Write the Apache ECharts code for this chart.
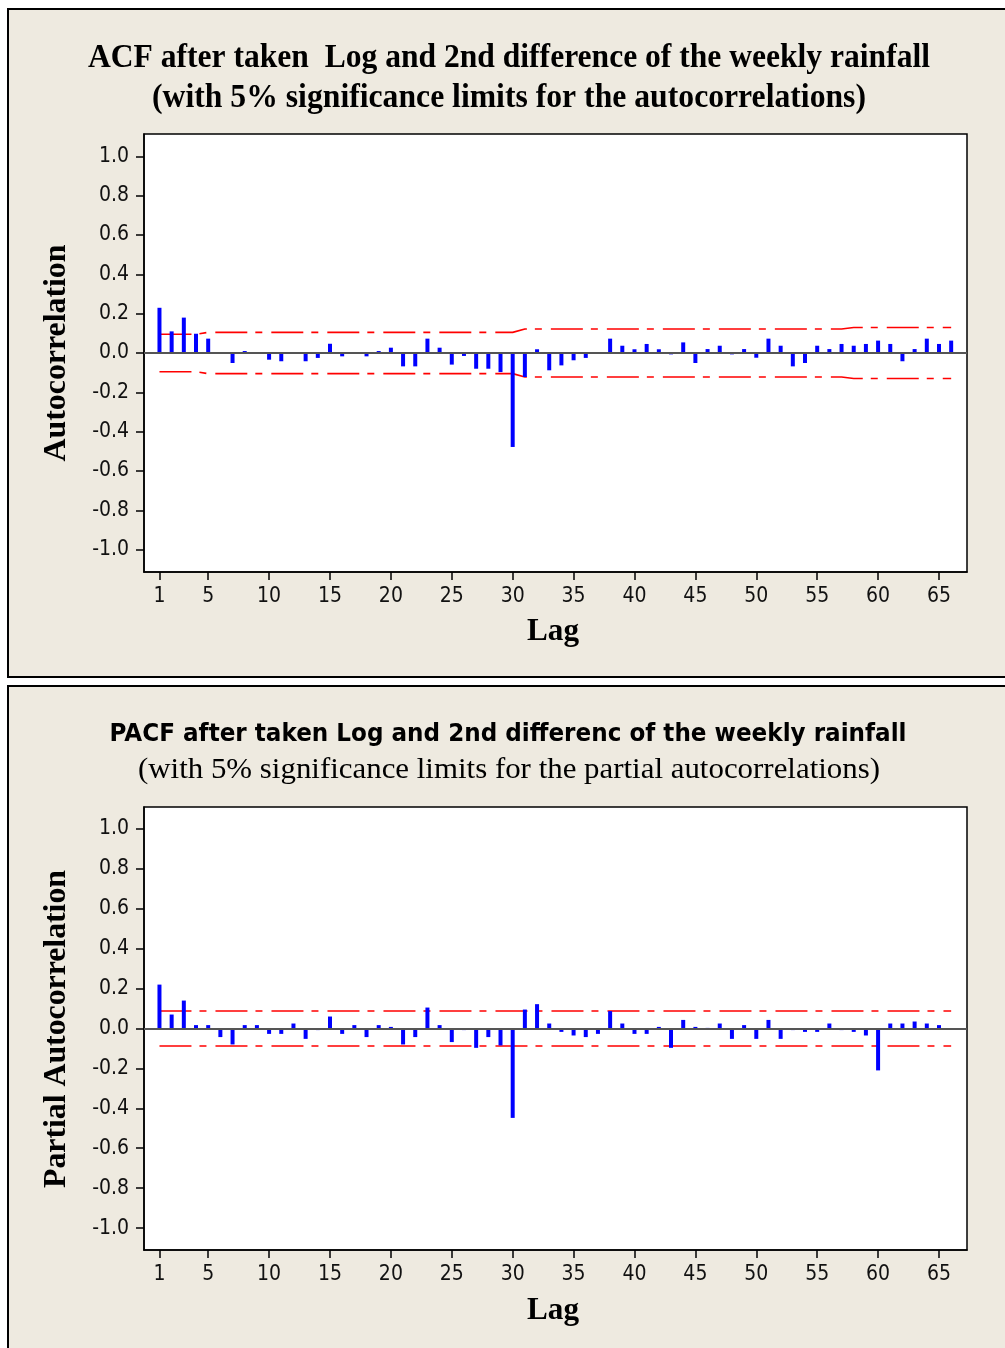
<!DOCTYPE html>
<html>
<head>
<meta charset="utf-8">
<script src="https://cdn.jsdelivr.net/npm/echarts@6/dist/echarts.min.js"></script>
<style>html,body{margin:0;padding:0;background:#fff}#c{width:1005px;height:1348px}</style>
</head>
<body>
<div id="c"></div>
<script>
// ---- data ----
const lags = [1,2,3,4,5,6,7,8,9,10,11,12,13,14,15,16,17,18,19,20,21,22,23,24,25,26,27,28,29,30,31,32,33,34,35,36,37,38,39,40,41,42,43,44,45,46,47,48,49,50,51,52,53,54,55,56,57,58,59,60,61,62,63,64,65,66];
const acf = [0.23,0.11,0.18,0.098,0.073,0.005,-0.051,0.01,0.003,-0.034,-0.042,0.003,-0.042,-0.025,0.047,-0.017,0.002,-0.017,0.01,0.027,-0.068,-0.068,0.073,0.027,-0.059,-0.015,-0.08,-0.08,-0.097,-0.478,-0.122,0.019,-0.088,-0.063,-0.037,-0.025,0.002,0.073,0.037,0.019,0.046,0.019,-0.007,0.054,-0.051,0.02,0.037,-0.007,0.02,-0.024,0.073,0.037,-0.068,-0.051,0.037,0.02,0.046,0.037,0.046,0.063,0.046,-0.042,0.02,0.073,0.046,0.063];
const acfLimit = [0.095,0.095,0.095,0.095,0.105,0.105,0.105,0.105,0.105,0.105,0.105,0.105,0.105,0.105,0.105,0.105,0.105,0.105,0.105,0.105,0.105,0.105,0.105,0.105,0.105,0.105,0.105,0.105,0.105,0.105,0.122,0.122,0.122,0.122,0.122,0.122,0.122,0.122,0.122,0.122,0.122,0.122,0.122,0.122,0.122,0.122,0.122,0.122,0.122,0.122,0.122,0.122,0.122,0.122,0.122,0.122,0.122,0.13,0.13,0.13,0.13,0.13,0.13,0.13,0.13,0.13];
const pacf = [0.22,0.07,0.14,0.017,0.017,-0.043,-0.08,0.017,0.017,-0.027,-0.027,0.025,-0.052,-0.008,0.06,-0.027,0.017,-0.043,0.017,0.008,-0.08,-0.043,0.105,0.017,-0.068,-0.008,-0.097,-0.043,-0.085,-0.448,0.095,0.122,0.025,-0.017,-0.035,-0.043,-0.027,0.087,0.025,-0.027,-0.027,0.008,-0.097,0.043,0.008,0.003,0.025,-0.052,0.017,-0.052,0.043,-0.052,-0.008,-0.017,-0.017,0.025,-0.008,-0.017,-0.035,-0.21,0.025,0.025,0.035,0.025,0.017,0];
const pacfLimit = [0.088,0.088,0.088,0.088,0.088,0.088,0.088,0.088,0.088,0.088,0.088,0.088,0.088,0.088,0.088,0.088,0.088,0.088,0.088,0.088,0.088,0.088,0.088,0.088,0.088,0.088,0.088,0.088,0.088,0.088,0.088,0.088,0.088,0.088,0.088,0.088,0.088,0.088,0.088,0.088,0.088,0.088,0.088,0.088,0.088,0.088,0.088,0.088,0.088,0.088,0.088,0.088,0.088,0.088,0.088,0.088,0.088,0.088,0.088,0.088,0.088,0.088,0.088,0.088,0.088,0.088];
const xTicks = [1,5,10,15,20,25,30,35,40,45,50,55,60,65];
const yTicks = [-1.0,-0.8,-0.6,-0.4,-0.2,0.0,0.2,0.4,0.6,0.8,1.0];
const titles = {
  acf1: 'ACF after taken  Log and 2nd difference of the weekly rainfall',
  acf2: '(with 5% significance limits for the autocorrelations)',
  pacf1: 'PACF after taken Log and 2nd differenc of the weekly rainfall',
  pacf2: '(with 5% significance limits for the partial autocorrelations)',
  acfY: 'Autocorrelation',
  pacfY: 'Partial Autocorrelation',
  x: 'Lag'
};

// ---- helpers ----
const mctx = document.createElement('canvas').getContext('2d');
function fit(text, font, target) { mctx.font = font; return target / mctx.measureText(text).width; }
function txt(text, font, x, y, width, rot) {
  const el = { type: 'text', x: x, y: y, z: 10,
    style: { text: text, font: font, fill: '#000', textAlign: 'center', textVerticalAlign: 'middle' },
    scaleX: fit(text, font, width) };
  if (rot) el.rotation = rot;
  return el;
}
const pairs = (xs, ys, sign) => xs.map((l, i) => [l, sign * ys[i]]);

const serifB = "bold 34px 'Liberation Serif'";
const serif = "30px 'Liberation Serif'";
const sansB = "bold 25px 'DejaVu Sans'";
const axisFont = "bold 32px 'Liberation Serif'";
const tickFont = 'DejaVu Sans Condensed';

function xAxis(gi) {
  return { type: 'value', gridIndex: gi, min: -0.27, max: 67.3,
    axisLine: { show: true, onZero: false, lineStyle: { color: '#000', width: 1.5 } },
    axisTick: { show: true, customValues: xTicks, length: 8, lineStyle: { color: '#000', width: 1.5 } },
    axisLabel: { customValues: xTicks, margin: 14, color: '#111', fontFamily: tickFont, fontSize: 21 },
    splitLine: { show: false } };
}
function yAxis(gi, lim) {
  return { type: 'value', gridIndex: gi, min: -lim, max: lim,
    axisLine: { show: true, onZero: false, lineStyle: { color: '#000', width: 1.5 } },
    axisTick: { show: true, customValues: yTicks, length: 8, lineStyle: { color: '#000', width: 1.5 } },
    axisLabel: { customValues: yTicks, margin: 15, color: '#111', fontFamily: tickFont, fontSize: 21,
      formatter: v => v.toFixed(1) },
    splitLine: { show: false } };
}
const dash = [32, 8, 7, 9];
function limitSeries(gi, lim, sign) {
  return { type: 'line', xAxisIndex: gi, yAxisIndex: gi, data: pairs(lags, lim, sign), symbol: 'none',
    silent: true, z: 3, lineStyle: { color: '#ff0000', width: 1.6, type: dash } };
}
function barSeries(gi, vals) {
  return { type: 'bar', xAxisIndex: gi, yAxisIndex: gi, data: pairs(lags, vals, 1), barWidth: 4,
    itemStyle: { color: '#0000ff' }, silent: true, z: 4,
    markLine: { silent: true, symbol: ['none', 'none'], label: { show: false },
      lineStyle: { color: '#555', width: 2, type: 'solid' }, data: [{ yAxis: 0 }] } };
}

const chart = echarts.init(document.getElementById('c'), null, { renderer: 'canvas' });
chart.setOption({
  backgroundColor: '#eeeae0',
  animation: false,
  grid: [
    { left: 144, top: 134, width: 823, height: 438, show: true, backgroundColor: '#fff', borderColor: '#000', borderWidth: 1.5 },
    { left: 144, top: 807, width: 823, height: 443, show: true, backgroundColor: '#fff', borderColor: '#000', borderWidth: 1.5 }
  ],
  xAxis: [xAxis(0), xAxis(1)],
  yAxis: [yAxis(0, 1.114), yAxis(1, 1.11)],
  series: [
    barSeries(0, acf), limitSeries(0, acfLimit, 1), limitSeries(0, acfLimit, -1),
    barSeries(1, pacf), limitSeries(1, pacfLimit, 1), limitSeries(1, pacfLimit, -1)
  ],
  graphic: [
    { type: 'rect', shape: { x: 0, y: 0, width: 1005, height: 9 }, style: { fill: '#fff' }, silent: true },
    { type: 'rect', shape: { x: 0, y: 0, width: 8, height: 1348 }, style: { fill: '#fff' }, silent: true },
    { type: 'rect', shape: { x: 0, y: 677, width: 1005, height: 9 }, style: { fill: '#fff' }, silent: true },
    { type: 'rect', shape: { x: 8, y: 9, width: 1010, height: 668 }, style: { fill: 'none', stroke: '#000', lineWidth: 2 }, silent: true },
    { type: 'rect', shape: { x: 8, y: 686, width: 1010, height: 680 }, style: { fill: 'none', stroke: '#000', lineWidth: 2 }, silent: true },
    txt(titles.acf1, serifB, 509, 58, 842),
    txt(titles.acf2, serifB, 509, 98, 714),
    txt(titles.pacf1, sansB, 508, 734, 797),
    txt(titles.pacf2, serif, 509, 770, 742),
    txt(titles.acfY, axisFont, 57, 353, 217, Math.PI / 2),
    txt(titles.pacfY, axisFont, 57, 1029, 318, Math.PI / 2),
    txt(titles.x, axisFont, 553, 632, 52),
    txt(titles.x, axisFont, 553, 1311, 52)
  ]
});
</script>
</body>
</html>
